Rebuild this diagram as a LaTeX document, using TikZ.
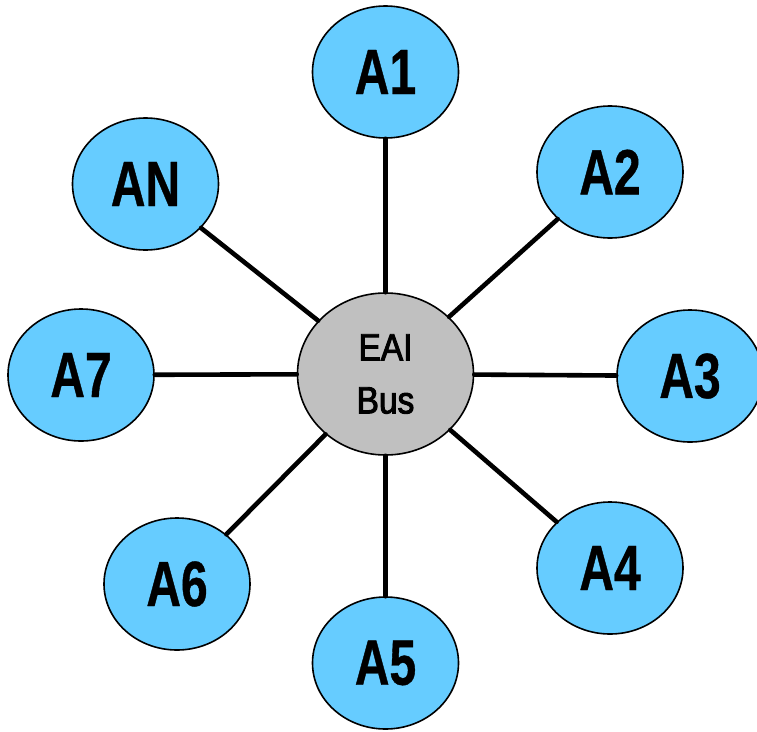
\documentclass[tikz,border=0pt]{standalone}
\usepackage{fontspec}
\setmainfont{Liberation Sans}[FakeStretch=0.75, BoldFeatures={FakeBold=0.6}]
\newfontfamily\busfont{Liberation Sans}[FakeStretch=0.88, FakeBold=2.5]
\usepackage{xcolor}
\usepackage{tikz}
\usetikzlibrary{positioning, shapes}

\definecolor{appblue}{HTML}{66CCFF}
\definecolor{busgray}{HTML}{C0C0C0}

\begin{document}
\begin{tikzpicture}[x=1pt, y=-1pt,
    app/.style={ellipse, draw, line width=1.6pt, fill=appblue, minimum width=146pt,
      minimum height=132pt, inner sep=0pt, font=\fontsize{64}{64}\selectfont\bfseries},
    bus/.style={ellipse, draw, line width=1.6pt, fill=busgray, minimum width=176pt,
      minimum height=162pt, inner sep=0pt, align=center, font=\busfont\fontsize{38}{53}\selectfont},
    link/.style={line width=4.6pt, line cap=round}]
      \useasboundingbox (0,0) rectangle (757,731);
      % hub in the middle
      \node[bus] (bus) at (385.5,374) {EAI\\Bus};
      % applications around it
      \node[app] (a1) at (385.5,72) {A1};
      \node[app] (a2) at (610,172) {A2};
      \node[app] (a3) at (690,376) {A3};
      \node[app] (a4) at (610,568) {A4};
      \node[app] (a5) at (385.5,663) {A5};
      \node[app] (a6) at (177,584) {A6};
      \node[app] (a7) at (81,375) {A7};
      \node[app] (an) at (145.5,184) {AN};
      % spokes
      \foreach \n in {a1,a2,a3,a4,a5,a6,a7,an}
        \draw[link] (bus) -- (\n);
    \end{tikzpicture}
\end{document}
